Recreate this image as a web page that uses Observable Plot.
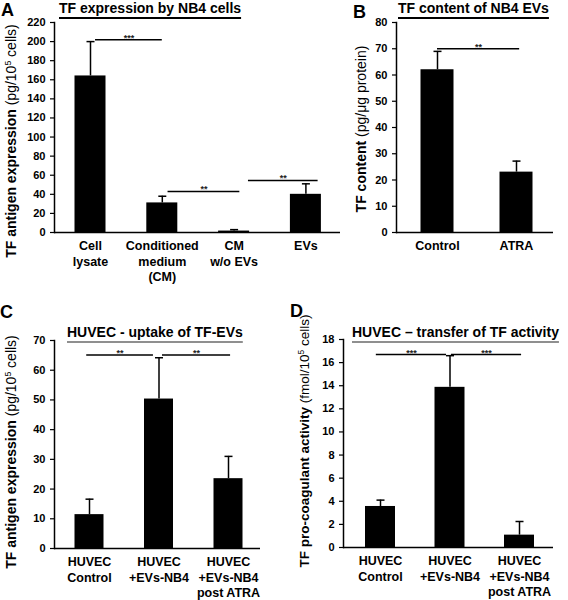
<!DOCTYPE html>
<html>
<head>
<meta charset="utf-8">
<script src="https://cdn.jsdelivr.net/npm/d3@7"></script>
<script src="https://cdn.jsdelivr.net/npm/@observablehq/plot@0.6"></script>
<style>
  html, body { margin: 0; padding: 0; background: #fff; }
  #fig { position: relative; width: 568px; height: 600px; overflow: hidden; background: #fff;
         font-family: "Liberation Sans", Arial, sans-serif; color: #000; }
  .abs { position: absolute; white-space: nowrap; }
  .letter { font-size: 18px; font-weight: bold; line-height: 20px; }
  .title { font-size: 14px; font-weight: bold; line-height: 14px; text-decoration: underline;
           text-underline-offset: 4px; text-decoration-thickness: 1.5px; }
  .title.gray { text-decoration-color: #8f8f8f; }
  .ylab { font-size: 14px; line-height: 14px; transform: translate(-50%, -50%) rotate(-90deg); }
  .ylab.small { font-size: 13.5px; }
  .ylab b { font-weight: bold; }
  .ylab sup { font-size: 0.62em; vertical-align: 0.55em; line-height: 0; }
</style>
</head>
<body>
<div id="fig"></div>
<script>
// ---------- Data ----------
// Panel A
const catsA = ["Cell\nlysate", "Conditioned\nmedium\n(CM)", "CM\nw/o EVs", "EVs"];
const meanA = [164, 31, 1.5, 40];
const sdA = [36, 7, 1.5, 11];
const yTicksA = [0, 20, 40, 60, 80, 100, 120, 140, 160, 180, 200, 220];
const sigFromA = [0.07, 1.08, 2.2];
const sigToA = [1.0, 2.08, 3.17];
const sigLevelA = [202, 43, 54.5];
const sigTextA = ["***", "**", "**"];

// Panel B
const catsB = ["Control", "ATRA"];
const meanB = [62, 23];
const sdB = [7, 4.2];
const yTicksB = [0, 10, 20, 30, 40, 50, 60, 70, 80];
const sigFromB = [0];
const sigToB = [1.04];
const sigLevelB = [70];
const sigTextB = ["**"];

// Panel C
const catsC = ["HUVEC\nControl", "HUVEC\n+EVs-NB4", "HUVEC\n+EVs-NB4\npost ATRA"];
const meanC = [11.4, 50.3, 23.5];
const sdC = [5.2, 13.9, 7.5];
const yTicksC = [0, 10, 20, 30, 40, 50, 60, 70];
const sigFromC = [-0.04, 1.05];
const sigToC = [0.92, 2.03];
const sigLevelC = [65.1, 65.1];
const sigTextC = ["**", "**"];

// Panel D
const catsD = ["HUVEC\nControl", "HUVEC\n+EVs-NB4", "HUVEC\n+EVs-NB4\npost ATRA"];
const meanD = [3.55, 13.86, 1.07];
const sdD = [0.55, 2.74, 1.18];
const yTicksD = [0, 2, 4, 6, 8, 10, 12, 14, 16, 18];
const sigFromD = [-0.06, 1.02];
const sigToD = [0.95, 2.03];
const sigLevelD = [16.7, 16.7];
const sigTextD = ["***", "***"];

// ---------- Drawing ----------
const fig = document.getElementById("fig");
const FONT = '"Liberation Sans", Arial, sans-serif';
const capSymbol = { draw(ctx) { ctx.moveTo(-4, 0); ctx.lineTo(4, 0); } };

function panel(cfg) {
  const { cats, mean, sd, yTicks, sigFrom, sigTo, sigLevel, sigText,
          left, top, width, height, mL, mR, mT, mB, c0, step, barW } = cfg;
  const rows = cats.map((c, i) => ({ i, cat: c, v: mean[i], e: mean[i] + sd[i] }));
  const sig = sigFrom.map((f, k) => ({ x1: f, x2: sigTo[k], y: sigLevel[k], t: sigText[k] }));
  const xDomain = [(left + mL - c0) / step, (left + width - mR - c0) / step];
  const inset = (step - barW) / 2;
  const yMax = yTicks[yTicks.length - 1];

  const svg = Plot.plot({
    width, height,
    marginLeft: mL, marginRight: mR, marginTop: mT, marginBottom: mB,
    x: { type: "linear", domain: xDomain, axis: null },
    y: { domain: [0, yMax], axis: null },
    style: { fontFamily: FONT, fontWeight: "bold", color: "#000", background: "transparent", overflow: "visible" },
    marks: [
      Plot.rectY(rows, { x1: d => d.i - 0.5, x2: d => d.i + 0.5, y: "v", fill: "#000",
                         insetLeft: inset, insetRight: inset }),
      Plot.ruleX(rows, { x: "i", y1: "v", y2: "e", stroke: "#000", strokeWidth: 1.5 }),
      Plot.dot(rows, { x: "i", y: "e", symbol: capSymbol, r: 4, stroke: "#000", strokeWidth: 1.5, fill: "none" }),
      Plot.ruleY(sig, { x1: "x1", x2: "x2", y: "y", stroke: "#000", strokeWidth: 1.5 }),
      Plot.text(sig, { x: d => (d.x1 + d.x2) / 2, y: "y", text: "t", fontSize: 9, fontWeight: "bold",
                       lineAnchor: "bottom", dy: 1, fill: "#222" }),
      Plot.ruleY([0], { stroke: "#000", strokeWidth: 1.5 }),
      Plot.frame({ anchor: "left", stroke: "#000", strokeWidth: 1.5 }),
      Plot.axisY({ ticks: yTicks, tickSize: 4, tickPadding: 5, fontSize: 11, fontWeight: "bold",
                   label: null, stroke: "#000", strokeWidth: 1.2 }),
      Plot.text(rows, { x: "i", text: "cat", frameAnchor: "bottom", lineAnchor: "top", dy: 7,
                        fontSize: 12.5, fontWeight: "bold", lineHeight: 1.22 })
    ]
  });
  svg.style.position = "absolute";
  svg.style.left = left + "px";
  svg.style.top = top + "px";
  fig.appendChild(svg);
}

function addText(cls, html, left, top) {
  const el = document.createElement("div");
  el.className = "abs " + cls;
  el.innerHTML = html;
  el.style.left = left + "px";
  el.style.top = top + "px";
  fig.appendChild(el);
  return el;
}

panel({ cats: catsA, mean: meanA, sd: sdA, yTicks: yTicksA, sigFrom: sigFromA, sigTo: sigToA,
        sigLevel: sigLevelA, sigText: sigTextA,
        left: 0, top: 0, width: 345, height: 290, mL: 54, mR: 5, mT: 22, mB: 58,
        c0: 90, step: 71.8, barW: 31 });
panel({ cats: catsB, mean: meanB, sd: sdB, yTicks: yTicksB, sigFrom: sigFromB, sigTo: sigToB,
        sigLevel: sigLevelB, sigText: sigTextB,
        left: 345, top: 0, width: 223, height: 290, mL: 51, mR: 15, mT: 22, mB: 58,
        c0: 437, step: 79, barW: 33 });
panel({ cats: catsC, mean: meanC, sd: sdC, yTicks: yTicksC, sigFrom: sigFromC, sigTo: sigToC,
        sigLevel: sigLevelC, sigText: sigTextC,
        left: 0, top: 300, width: 280, height: 300, mL: 54, mR: 20, mT: 40, mB: 52,
        c0: 89, step: 69.5, barW: 29 });
panel({ cats: catsD, mean: meanD, sd: sdD, yTicks: yTicksD, sigFrom: sigFromD, sigTo: sigToD,
        sigLevel: sigLevelD, sigText: sigTextD,
        left: 280, top: 300, width: 288, height: 300, mL: 63, mR: 15, mT: 39, mB: 53,
        c0: 380, step: 69.5, barW: 30 });

// Panel letters
addText("letter", "A", 1, 0);
addText("letter", "B", 353, 2);
addText("letter", "C", 0, 302);
addText("letter", "D", 290, 301);

// Titles
addText("title", "TF expression by NB4 cells", 59, 1);
addText("title", "TF content of NB4 EVs", 398, 1);
addText("title gray", "HUVEC - uptake of TF-EVs", 67, 325);
addText("title gray", "HUVEC \u2013 transfer of TF activity", 352, 325);

// Y-axis labels (centre positions)
addText("ylab", "<b>TF antigen expression</b> (pg/10<sup>5</sup> cells)", 11, 141);
addText("ylab", "<b>TF content</b> (pg/\u03bcg protein)", 361, 129);
addText("ylab", "<b>TF antigen expression</b> (pg/10<sup>5</sup> cells)", 11, 452);
addText("ylab small", "<b>TF pro-coagulant activity</b> (fmol/10<sup>5</sup> cells)", 305, 441);
</script>
</body>
</html>
